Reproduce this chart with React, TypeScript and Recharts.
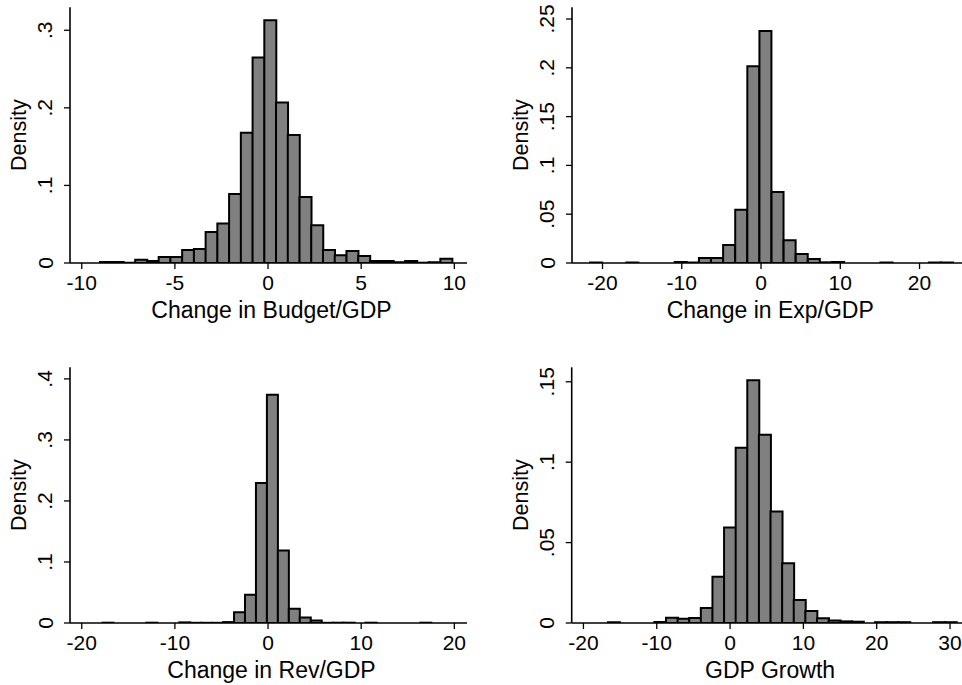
import React from "react";
import { ComposedChart, Bar, XAxis, YAxis } from "recharts";

// histogram bins: lower edge of first bin, bin width, density per bin
const budgetStart = -9.02;
const budgetWidth = 0.63;
const budgetDensity = [
  0.0013, 0.0013, 0.0004, 0.0043, 0.0026, 0.0077, 0.0077, 0.0168, 0.018, 0.04,
  0.051, 0.089, 0.168, 0.265, 0.313, 0.207, 0.165, 0.085, 0.0486, 0.0168,
  0.0099, 0.0155, 0.009, 0.0026, 0.0026, 0.001, 0.0026, 0.0004, 0.001, 0.0056,
];

const expStart = -21.58;
const expWidth = 1.527;
const expDensity = [
  0.0005, 0, 0, 0.0005, 0, 0, 0, 0.001, 0.0005, 0.005,
  0.005, 0.0184, 0.0546, 0.2015, 0.2377, 0.0727, 0.0232, 0.0092, 0.004, 0.0007,
  0.001, 0, 0, 0, 0.0005, 0, 0, 0, 0.0005, 0.0005,
];

const revStart = -17.77;
const revWidth = 1.1766;
const revDensity = [
  0.0005, 0, 0, 0, 0.0005, 0, 0, 0.001, 0.0003, 0.0003,
  0.0003, 0.0015, 0.0175, 0.0464, 0.2295, 0.374, 0.119, 0.0235, 0.009, 0.004,
  0.0003, 0.0005, 0.0005, 0, 0.0005, 0, 0, 0, 0, 0.0005,
];

const gdpStart = -16.66;
const gdpWidth = 1.584;
const gdpDensity = [
  0.0005, 0, 0, 0, 0.0006, 0.0033, 0.0027, 0.0031, 0.0093, 0.0288,
  0.0594, 0.109, 0.151, 0.117, 0.0693, 0.0372, 0.0143, 0.0075, 0.003, 0.0015,
  0.001, 0.0008, 0, 0.0005, 0.0005, 0.0005, 0, 0, 0.0005, 0.0005,
];

const budgetXTicks = [-10, -5, 0, 5, 10];
const wideXTicks = [-20, -10, 0, 10, 20];
const gdpXTicks = [-20, -10, 0, 10, 20, 30];

const budgetYTicks = [0, 0.1, 0.2, 0.3];
const expYTicks = [0, 0.05, 0.1, 0.15, 0.2, 0.25];
const revYTicks = [0, 0.1, 0.2, 0.3, 0.4];
const gdpYTicks = [0, 0.05, 0.1, 0.15];

const FONT = "'Liberation Sans', Arial, Helvetica, sans-serif";
const X_AXIS_H = 60;

const fmtY = (v: number) => (v === 0 ? "0" : String(v).replace(/^0/, ""));

const XTick = (props: any) => {
  const { x, y, payload } = props;
  return (
    <text x={x} y={y} dy={20.5} textAnchor="middle" fontSize={21} fontFamily={FONT} fill="#000">
      {payload.value}
    </text>
  );
};

const YTick = (props: any) => {
  const { x, y, payload } = props;
  const bx = x - 11.5;
  return (
    <text
      x={bx}
      y={y}
      transform={`rotate(-90, ${bx}, ${y})`}
      textAnchor="middle"
      fontSize={21}
      fontFamily={FONT}
      fill="#000"
    >
      {fmtY(payload.value)}
    </text>
  );
};

interface Box {
  x: number;
  y: number;
  w: number;
  h: number;
}

interface Plot {
  l: number;
  r: number;
  t: number;
  b: number;
}

interface PanelProps {
  box: Box;
  plot: Plot;
  start: number;
  width: number;
  density: number[];
  xDomain: [number, number];
  xTicks: number[];
  yDomain: [number, number];
  yTicks: number[];
  xTitle: string;
}

const Panel = ({ box, plot, start, width, density, xDomain, xTicks, yDomain, yTicks, xTitle }: PanelProps) => {
  const rows = density.map((d, i) => ({ mid: start + (i + 0.5) * width, density: d }));
  const margin = {
    top: plot.t - box.y,
    right: box.x + box.w - plot.r,
    bottom: box.y + box.h - plot.b - X_AXIS_H,
    left: 0,
  };
  const yAxisW = plot.l - box.x;

  const xTitleRender = (p: any) => {
    const vb = p.viewBox;
    return (
      <text x={vb.x + vb.width / 2 + 3} y={vb.y + 55} textAnchor="middle" fontSize={23} fontFamily={FONT} fill="#000">
        {xTitle}
      </text>
    );
  };

  const yTitleRender = (p: any) => {
    const vb = p.viewBox;
    const bx = vb.x + vb.width - 44;
    const cy = vb.y + vb.height / 2;
    return (
      <text
        x={bx}
        y={cy}
        transform={`rotate(-90, ${bx}, ${cy})`}
        textAnchor="middle"
        fontSize={21.5}
        fontFamily={FONT}
        fill="#000"
      >
        Density
      </text>
    );
  };

  return (
    <div style={{ position: "absolute", left: box.x, top: box.y, width: box.w, height: box.h }}>
      <ComposedChart width={box.w} height={box.h} data={rows} margin={margin} barCategoryGap={0} barGap={0}>
        <XAxis
          xAxisId="x"
          dataKey="mid"
          type="number"
          domain={xDomain}
          ticks={xTicks}
          interval={0}
          allowDataOverflow
          height={X_AXIS_H}
          tickSize={6}
          tickMargin={0}
          tickLine={{ stroke: "#000", strokeWidth: 1.3 }}
          axisLine={{ stroke: "#000", strokeWidth: 1.6 }}
          tick={<XTick />}
          label={xTitleRender}
        />
        <XAxis
          xAxisId="frame"
          orientation="top"
          type="number"
          domain={xDomain}
          allowDataOverflow
          height={0}
          tick={false}
          tickLine={false}
          axisLine={{ stroke: "#111", strokeWidth: 1.3 }}
        />
        <YAxis
          yAxisId="y"
          type="number"
          domain={yDomain}
          ticks={yTicks}
          interval={0}
          allowDataOverflow
          width={yAxisW}
          tickSize={6}
          tickMargin={0}
          tickLine={{ stroke: "#000", strokeWidth: 1.3 }}
          axisLine={{ stroke: "#000", strokeWidth: 1.6 }}
          tick={<YTick />}
          label={yTitleRender}
        />
        <YAxis
          yAxisId="frame"
          orientation="right"
          type="number"
          domain={yDomain}
          allowDataOverflow
          width={0}
          tick={false}
          tickLine={false}
          axisLine={{ stroke: "#111", strokeWidth: 1.3 }}
        />
        <Bar
          xAxisId="x"
          yAxisId="y"
          dataKey="density"
          fill="#808080"
          stroke="#000"
          strokeWidth={2}
          isAnimationActive={false}
        />
      </ComposedChart>
    </div>
  );
};

export default function App() {
  return (
    <div
      style={{
        position: "absolute",
        left: 0,
        top: 0,
        width: 962,
        height: 685,
        overflow: "hidden",
        background: "#fff",
      }}
    >
      <Panel
        box={{ x: 0, y: 0, w: 481, h: 342 }}
        plot={{ l: 70, r: 467, t: 7.3, b: 263 }}
        start={budgetStart}
        width={budgetWidth}
        density={budgetDensity}
        xDomain={[-10.63, 10.68]}
        xTicks={budgetXTicks}
        yDomain={[0, 0.3296]}
        yTicks={budgetYTicks}
        xTitle="Change in Budget/GDP"
      />
      <Panel
        box={{ x: 481, y: 0, w: 490, h: 342 }}
        plot={{ l: 572, r: 962.5, t: 7.3, b: 263 }}
        start={expStart}
        width={expWidth}
        density={expDensity}
        xDomain={[-23.85, 25.42]}
        xTicks={wideXTicks}
        yDomain={[0, 0.262]}
        yTicks={expYTicks}
        xTitle="Change in Exp/GDP"
      />
      <Panel
        box={{ x: 0, y: 342, w: 481, h: 343 }}
        plot={{ l: 70, r: 467, t: 367.3, b: 623 }}
        start={revStart}
        width={revWidth}
        density={revDensity}
        xDomain={[-21.26, 21.36]}
        xTicks={wideXTicks}
        yDomain={[0, 0.419]}
        yTicks={revYTicks}
        xTitle="Change in Rev/GDP"
      />
      <Panel
        box={{ x: 481, y: 342, w: 490, h: 343 }}
        plot={{ l: 571.7, r: 962.5, t: 367.3, b: 623 }}
        start={gdpStart}
        width={gdpWidth}
        density={gdpDensity}
        xDomain={[-21.6, 31.7]}
        xTicks={gdpXTicks}
        yDomain={[0, 0.159]}
        yTicks={gdpYTicks}
        xTitle="GDP Growth"
      />
    </div>
  );
}
